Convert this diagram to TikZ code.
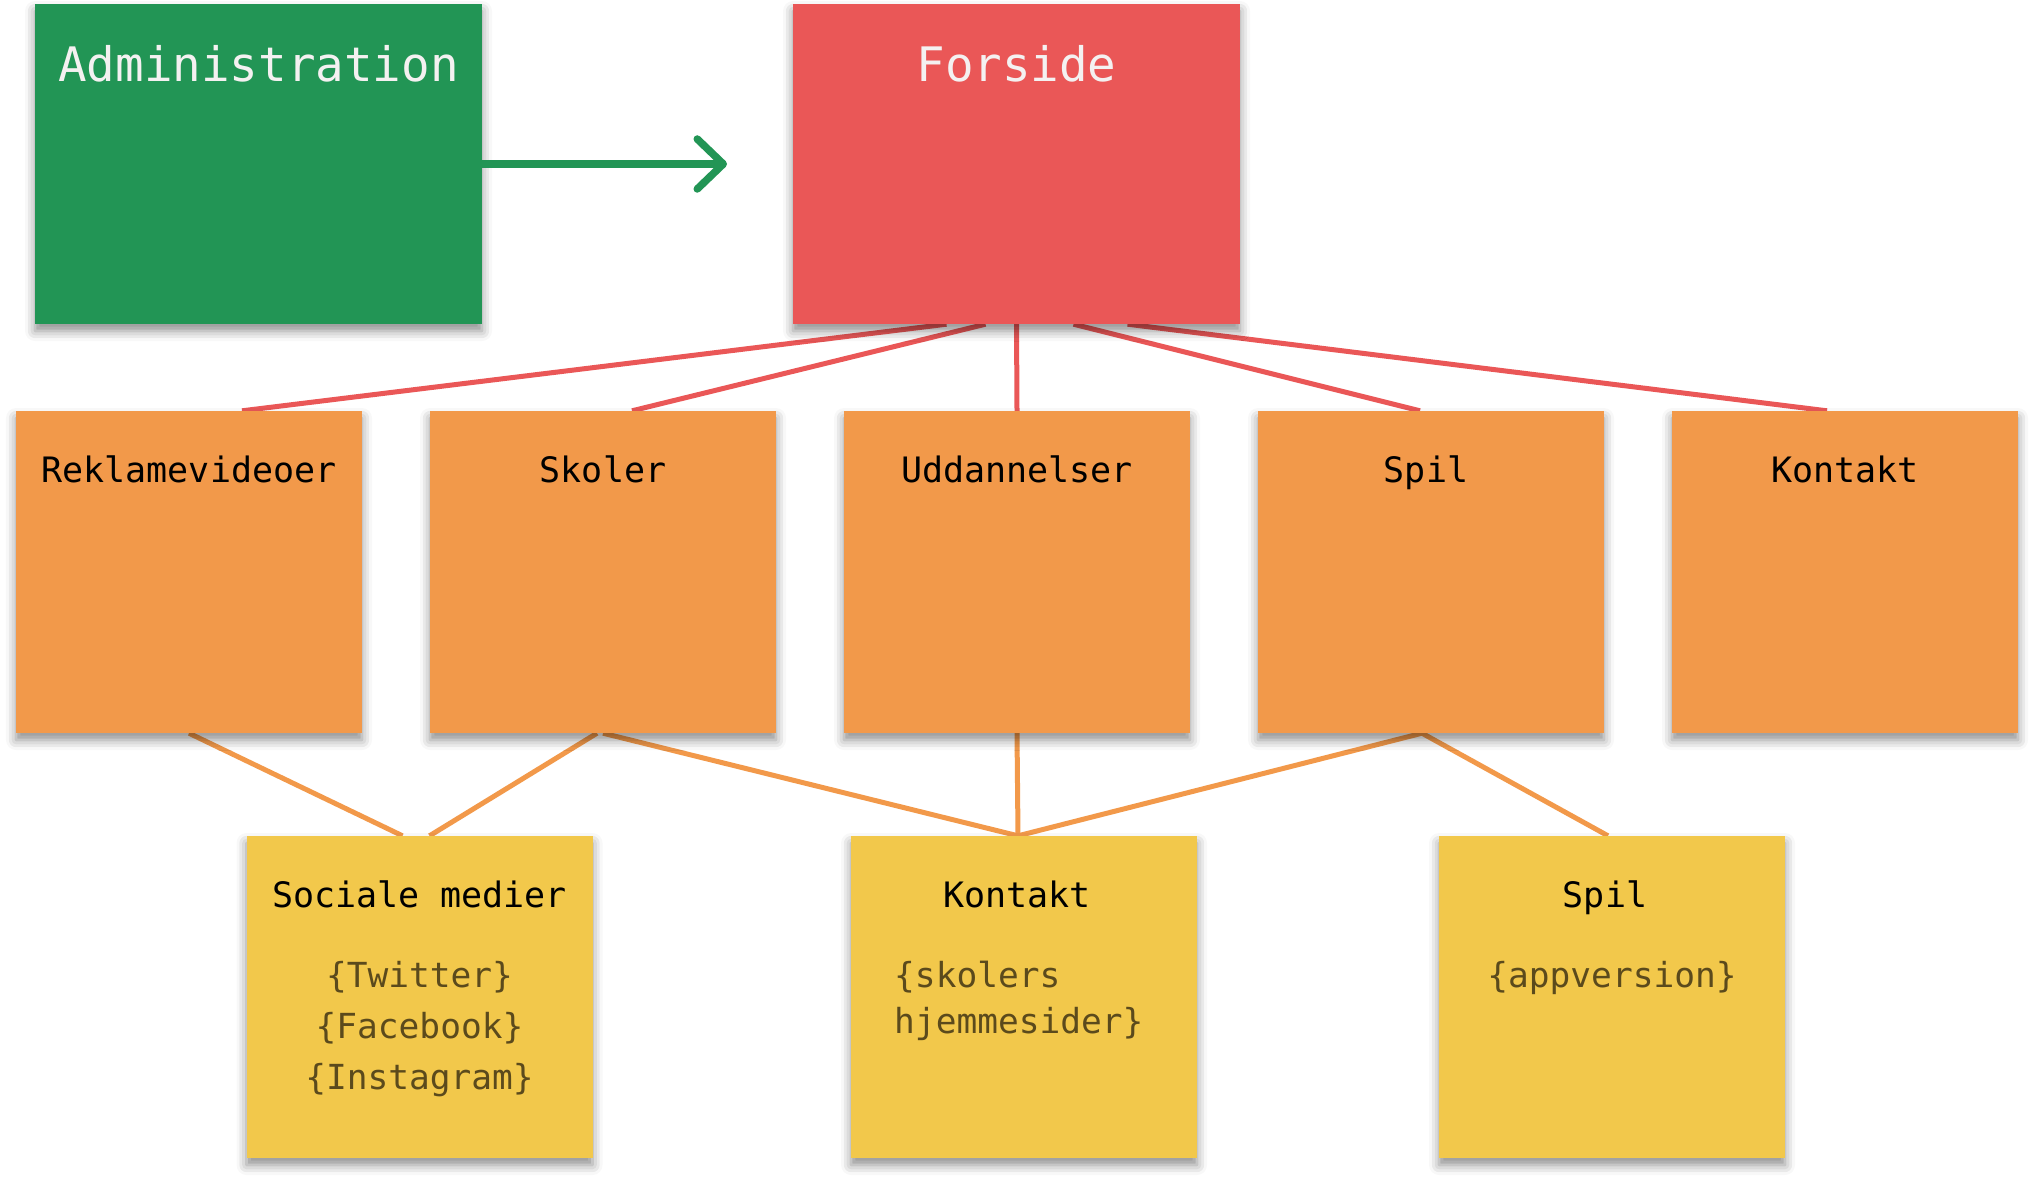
\documentclass[tikz,border=0pt]{standalone}
\usepackage{fontspec}
\setmonofont{DejaVu Sans Mono}
\usetikzlibrary{arrows.meta,shadows.blur,backgrounds}
\definecolor{cgreen}{HTML}{229555}
\definecolor{cred}{HTML}{EA5757}
\definecolor{corange}{HTML}{F2994A}
\definecolor{cyellow}{HTML}{F2C84B}
\definecolor{csub}{HTML}{5B4A1C}
\definecolor{cwhite}{HTML}{F4F1F1}
\begin{document}
\begin{tikzpicture}[x=1pt,y=-1pt,
  card/.style={rectangle, inner sep=0pt, minimum width=346pt, minimum height=322pt,
    blur shadow={shadow xshift=0pt, shadow yshift=-7pt, shadow blur radius=10pt, shadow opacity=45}},
  bigcard/.style={card, minimum width=447pt, minimum height=320pt},
  bigtitle/.style={anchor=base, font=\ttfamily\fontsize{47.5}{57}\selectfont, text=cwhite, inner sep=0pt},
  cardtitle/.style={anchor=base, font=\ttfamily\fontsize{35}{42}\selectfont, text=black, inner sep=0pt},
  subtext/.style={anchor=base, font=\ttfamily\fontsize{34.5}{42}\selectfont, text=csub, inner sep=0pt},
  redline/.style={draw=cred, line width=5pt},
  orline/.style={draw=corange, line width=5pt},
]
\useasboundingbox (0,0) rectangle (2033,1185);

% top row
\node[bigcard, fill=cgreen] (admin) at (258.5,164) {};
\node[bigcard, fill=cred] (forside) at (1016.5,164) {};
\node[bigtitle] (admint) at (258.5,82) {Administration};
\node[bigtitle] (forsidet) at (1016.5,82) {Forside};

% middle row
\node[card, fill=corange] (rek) at (189,572) {};
\node[card, fill=corange] (sko) at (603,572) {};
\node[card, fill=corange] (udd) at (1017,572) {};
\node[card, fill=corange] (spil) at (1431,572) {};
\node[card, fill=corange] (kon) at (1845,572) {};
\node[cardtitle] (rekt) at (189,482) {Reklamevideoer};
\node[cardtitle] (skot) at (603,482) {Skoler};
\node[cardtitle] (uddt) at (1017,482) {Uddannelser};
\node[cardtitle] (spilt) at (1426,482) {Spil};
\node[cardtitle] (kont) at (1845,482) {Kontakt};

% bottom row
\node[card, fill=cyellow] (som) at (419.5,997) {};
\node[card, fill=cyellow] (kon2) at (1024,997) {};
\node[card, fill=cyellow] (spil2) at (1612,997) {};
\node[cardtitle] (somt) at (419.5,907) {Sociale medier};
\node[cardtitle] (kon2t) at (1017,907) {Kontakt};
\node[cardtitle] (spil2t) at (1605,907) {Spil};
\node[subtext] (s1) at (419.5,987) {\{Twitter\}};
\node[subtext] (s2) at (419.5,1038) {\{Facebook\}};
\node[subtext] (s3) at (419.5,1089) {\{Instagram\}};
\node[subtext, anchor=base west] (k1) at (894,987) {\{skolers};
\node[subtext, anchor=base west] (k2) at (894,1033) {hjemmesider\}};
\node[subtext] (a1) at (1612,987) {\{appversion\}};

% arrow
\coordinate (arrowend) at (727,164);
\draw[draw=cgreen, line width=7.5pt, line cap=round,
  -{Straight Barb[length=26pt,width=50pt,round]}] (admin.east) -- (arrowend);

\begin{scope}[on background layer]
\draw[redline] ([xshift=53pt]rek.north) -- ([xshift=-70pt]forside.south);
\draw[redline] ([xshift=29pt]sko.north) -- ([xshift=-31pt]forside.south);
\draw[redline] (udd.north) -- (forside.south);
\draw[redline] ([xshift=-11pt]spil.north) -- ([xshift=57pt]forside.south);
\draw[redline] ([xshift=-18pt]kon.north) -- ([xshift=111pt]forside.south);

\draw[orline] (rek.south) -- ([xshift=-17pt]som.north);
\draw[orline] ([xshift=-6pt]sko.south) -- ([xshift=10pt]som.north);
\draw[orline] (sko.south) -- ([xshift=-6pt]kon2.north);
\draw[orline] (udd.south) -- ([xshift=-6pt]kon2.north);
\draw[orline] ([xshift=-9pt]spil.south) -- ([xshift=-6pt]kon2.north);
\draw[orline] ([xshift=-9pt]spil.south) -- ([xshift=-4pt]spil2.north);
\end{scope}
\end{tikzpicture}
\end{document}
